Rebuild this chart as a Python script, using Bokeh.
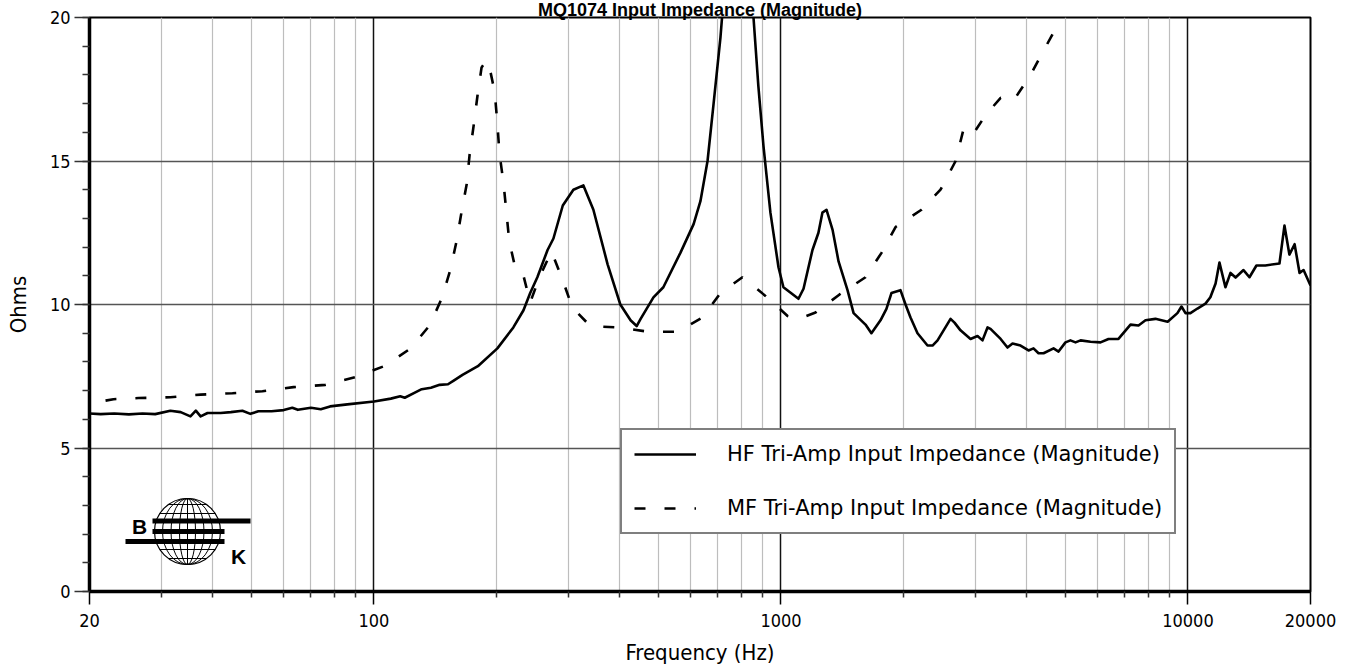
from bokeh.plotting import figure
from bokeh.models import (Range1d, FixedTicker, SingleIntervalTicker, Legend, LegendItem,
                          Title, PrintfTickFormatter, ColumnDataSource)
from bokeh.core.properties import value
from bokeh.embed import file_html
from bokeh.resources import INLINE

# ---------------- data ----------------
TITLE = "MQ1074 Input Impedance (Magnitude)"
X_LABEL = "Frequency (Hz)"
Y_LABEL = "Ohms"
HF_LABEL = "HF Tri-Amp Input Impedance (Magnitude)"
MF_LABEL = "MF Tri-Amp Input Impedance (Magnitude)"

X_MAJOR = [20, 100, 1000, 10000, 20000]
X_DECADES = [100, 1000, 10000]
X_MINOR = [30, 40, 50, 60, 70, 80, 90, 200, 300, 400, 500, 600, 700, 800, 900,
           2000, 3000, 4000, 5000, 6000, 7000, 8000, 9000]
Y_GRID = [5, 10, 15]

hf_freq = [20, 21.3, 23, 25, 27, 29, 31.6, 33.5, 35.4, 36.5, 37.5, 39, 42, 44.5, 47.5, 49.7,
           52, 56, 60, 63, 65, 70, 74, 78, 86, 100, 110, 116, 119, 126, 131, 138, 145, 152,
           157, 165, 180, 201, 220, 233, 242, 252, 267, 276, 291, 309, 327, 346, 375, 403,
           427, 442, 452, 486, 514, 566, 610, 634, 660, 683, 710, 740, 782, 830, 856, 880,
           906, 942, 986, 1014, 1104, 1136, 1195, 1236, 1264, 1294, 1339, 1385, 1457, 1508,
           1613, 1668, 1756, 1816, 1868, 1966, 2023, 2081, 2165, 2291, 2357, 2425, 2610,
           2669, 2761, 2922, 3040, 3127, 3217, 3272, 3465, 3602, 3706, 3878, 4057, 4173,
           4293, 4417, 4674, 4808, 5000, 5142, 5292, 5446, 5762, 6096, 6378, 6748, 7224,
           7559, 7864, 8318, 8913, 9420, 9640, 9860, 10140, 10550, 11040, 11350, 11690,
           11950, 12360, 12720, 13090, 13690, 14160, 14730, 15490, 16780, 17260, 17750,
           18280, 18800, 19230, 20000]
hf_ohms = [6.2, 6.18, 6.2, 6.17, 6.2, 6.18, 6.3, 6.25, 6.1, 6.3, 6.1, 6.22, 6.22, 6.25, 6.3, 6.19,
           6.28, 6.28, 6.32, 6.4, 6.33, 6.4, 6.35, 6.45, 6.52, 6.62, 6.72, 6.8, 6.75, 6.93, 7.05,
           7.1, 7.2, 7.22, 7.35, 7.55, 7.85, 8.47, 9.2, 9.8, 10.4, 10.95, 11.9, 12.3, 13.45,
           14.0, 14.15, 13.3, 11.4, 10.0, 9.45, 9.25, 9.5, 10.25, 10.6, 11.8, 12.8, 13.6, 15.0,
           17.0, 19.3, 22.5, 24.5, 22.0, 20.0, 17.6, 15.5, 13.2, 11.3, 10.6, 10.2, 10.55, 11.9,
           12.5, 13.2, 13.3, 12.6, 11.5, 10.5, 9.7, 9.3, 9.0, 9.45, 9.85, 10.4, 10.5, 10.0,
           9.55, 9.0, 8.57, 8.57, 8.75, 9.5, 9.37, 9.1, 8.8, 8.9, 8.75, 9.2, 9.15, 8.8, 8.5,
           8.64, 8.57, 8.4, 8.47, 8.3, 8.3, 8.47, 8.36, 8.68, 8.75, 8.68, 8.75, 8.7, 8.68, 8.8,
           8.8, 9.3, 9.27, 9.45, 9.5, 9.4, 9.7, 9.93, 9.7, 9.7, 9.86, 10.03, 10.25, 10.73,
           11.46, 10.6, 11.1, 10.94, 11.2, 10.95, 11.36, 11.36, 11.43, 12.75, 11.74, 12.1,
           11.1, 11.2, 10.66]

mf_freq = [21.9, 22.9, 26.4, 31.6, 37.5, 44.9, 53.2, 63.4, 76, 90, 106.7, 123, 137, 146.6,
           154, 159.5, 164, 169, 171.7, 175.6, 179.7, 183.8, 189, 192, 198, 201, 203.4, 208,
           211.6, 215, 222.6, 233, 242, 255, 273, 291, 307, 340, 399, 473, 557, 642, 710, 804,
           916, 1038, 1104, 1216, 1393, 1613, 1766, 1912, 2214, 2466, 2686, 2808, 2954, 3182,
           3465, 3725, 4104, 4440, 4808, 5142, 5600]
mf_ohms = [6.65, 6.7, 6.74, 6.77, 6.86, 6.91, 6.98, 7.12, 7.2, 7.47, 7.87, 8.47, 9.27, 10.2,
           11.2, 12.2, 13.2, 14.2, 15.2, 16.2, 17.3, 18.26, 18.5, 18.3, 17.4, 16.3, 15.26,
           14.25, 13.2, 12.2, 11.25, 11.0, 10.07, 10.95, 11.85, 10.84, 9.9, 9.25, 9.2, 9.05,
           9.05, 9.55, 10.4, 10.95, 10.3, 9.6, 9.5, 9.72, 10.35, 10.95, 11.8, 12.7, 13.3, 14.0,
           15.0, 16.1, 15.9, 16.6, 17.2, 17.1, 18.0, 18.9, 19.8, 20.7, 21.8]

# ---------------- figure ----------------
W, H = 1357, 672
L, R, T, B = 89, 47, 17, 81
COND = "'DejaVu Sans Condensed', 'Open Sans', sans-serif"

p = figure(width=W, height=H, x_axis_type="log",
           x_range=Range1d(20, 20000), y_range=Range1d(0, 20),
           output_backend="svg", toolbar_location=None,
           min_border_left=L, min_border_right=R, min_border_top=T, min_border_bottom=B,
           background_fill_color="white", border_fill_color="white")
p.outline_line_color = "black"
p.outline_line_width = 2

# title (above panel)
p.add_layout(Title(text=TITLE, align="center", text_font="Liberation Sans",
                   text_font_style="bold", text_font_size="18px", text_color="black",
                   standoff=-5), "above")

# x axis
p.xaxis.ticker = FixedTicker(ticks=X_MAJOR, minor_ticks=X_MINOR)
p.xaxis.formatter = PrintfTickFormatter(format="%d")
p.xaxis.axis_line_width = 3.5
p.xaxis.axis_line_color = "black"
p.xaxis.major_tick_out = 13
p.xaxis.major_tick_in = 0
p.xaxis.minor_tick_out = 6
p.xaxis.minor_tick_in = 0
p.xaxis.major_tick_line_width = 1.5
p.xaxis.minor_tick_line_width = 1.5
p.xaxis.major_tick_line_color = "black"
p.xaxis.minor_tick_line_color = "#333333"
p.xaxis.major_label_text_font = COND
p.xaxis.major_label_text_font_size = "18px"
p.xaxis.major_label_text_color = "black"
p.xaxis.major_label_standoff = 9
p.xaxis.axis_label = X_LABEL
p.xaxis.axis_label_text_font = COND
p.xaxis.axis_label_text_font_size = "22px"
p.xaxis.axis_label_text_font_style = "normal"
p.xaxis.axis_label_text_color = "black"
p.xaxis.axis_label_standoff = 10

# y axis
p.yaxis.ticker = SingleIntervalTicker(interval=5, num_minor_ticks=5)
p.yaxis.axis_line_width = 3.5
p.yaxis.axis_line_color = "black"
p.yaxis.major_tick_out = 15
p.yaxis.major_tick_in = 0
p.yaxis.minor_tick_out = 7
p.yaxis.minor_tick_in = 0
p.yaxis.major_tick_line_width = 1.5
p.yaxis.minor_tick_line_width = 1.5
p.yaxis.major_tick_line_color = "#333333"
p.yaxis.minor_tick_line_color = "#333333"
p.yaxis.major_label_text_font = COND
p.yaxis.major_label_text_font_size = "18px"
p.yaxis.major_label_text_color = "black"
p.yaxis.major_label_standoff = 4
p.yaxis.axis_label = Y_LABEL
p.yaxis.axis_label_text_font = COND
p.yaxis.axis_label_text_font_size = "22px"
p.yaxis.axis_label_text_font_style = "normal"
p.yaxis.axis_label_text_color = "black"
p.yaxis.axis_label_standoff = 16

# grids
p.xgrid.ticker = FixedTicker(ticks=X_DECADES, minor_ticks=X_MINOR)
p.xgrid.grid_line_color = "#111111"
p.xgrid.grid_line_width = 1.5
p.xgrid.minor_grid_line_color = "#bdbdbd"
p.xgrid.minor_grid_line_width = 1.2
p.ygrid.ticker = FixedTicker(ticks=Y_GRID)
p.ygrid.grid_line_color = "#555555"
p.ygrid.grid_line_width = 1.5

# curves
hf_src = ColumnDataSource(dict(f=hf_freq, z=hf_ohms))
mf_src = ColumnDataSource(dict(f=mf_freq, z=mf_ohms))
r_hf = p.line("f", "z", source=hf_src, line_color="black", line_width=2.6, line_join="round")
r_mf = p.line("f", "z", source=mf_src, line_color="black", line_width=2.6,
              line_dash="11 19")

legend = Legend(items=[LegendItem(label=HF_LABEL, renderers=[r_hf]),
                       LegendItem(label=MF_LABEL, renderers=[r_mf])],
                location=(531, 57), orientation="vertical", margin=0,
                padding=12, spacing=30, glyph_width=62, glyph_height=24,
                label_height=24, label_standoff=31,
                label_text_font="DejaVu Sans", label_text_font_size="21px",
                label_text_color="black",
                border_line_color="black", border_line_width=2,
                background_fill_color="white", background_fill_alpha=1.0)
p.add_layout(legend)

# pixel -> data helpers (for decorative logo placement)
DEC = (W - L - R) / 3.0
PY = (H - T - B) / 20.0


def fx(px):
    return 20 * 10 ** ((px - L) / DEC)


def fy(py):
    return (H - B - py) / PY


# ---- B&K logo (decoration) ----
cxp, cyp, rr = 187, 531, 33
cx, cy = fx(cxp), fy(cyp)
p.ellipse(x=[cx], y=[cy], width=2 * rr, height=2 * rr, width_units="screen",
          height_units="screen", fill_color="white", line_color="black", line_width=1.2)
p.ellipse(x=[cx] * 3, y=[cy] * 3, width=[50, 33, 16], height=[2 * rr] * 3,
          width_units="screen", height_units="screen", fill_color=None,
          line_color="black", line_width=1)
p.segment(x0=[cx], y0=[fy(cyp - rr)], x1=[cx], y1=[fy(cyp + rr)], line_color="black",
          line_width=1)
par = [-27, -18, -9, 0, 9, 18, 27]
x0s, x1s, ys = [], [], []
for d in par:
    hw = (rr * rr - d * d) ** 0.5
    x0s.append(fx(cxp - hw))
    x1s.append(fx(cxp + hw))
    ys.append(fy(cyp + d))
p.segment(x0=x0s, y0=ys, x1=x1s, y1=ys, line_color="black", line_width=1)
bars = [(152, 250, 520.5), (152, 224, 531), (125, 224, 541)]
p.segment(x0=[fx(b[0]) for b in bars], y0=[fy(b[2]) for b in bars],
          x1=[fx(b[1]) for b in bars], y1=[fy(b[2]) for b in bars],
          line_color="black", line_width=5, line_cap="butt")
p.text(x=[fx(139), fx(238)], y=[fy(526), fy(556)], text=["B", "K"],
       text_align="center", text_baseline="middle", text_font=value("Liberation Sans"),
       text_font_style="bold", text_font_size="21px", text_color="black")

open("out.html", "w").write(file_html(p, INLINE))
